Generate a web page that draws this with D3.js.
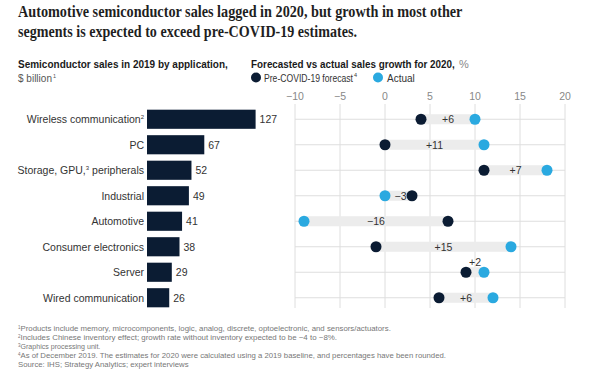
<!DOCTYPE html>
<html><head><meta charset="utf-8">
<script src="https://cdn.jsdelivr.net/npm/d3@7"></script>
<style>
body{margin:0;background:#fff;}
svg{display:block;}
text{font-family:"Liberation Sans",Arial,sans-serif;}
</style></head>
<body>
<script>
const categories = ["Wireless communication","PC","Storage, GPU, peripherals","Industrial","Automotive","Consumer electronics","Server","Wired communication"];
const sales2019 = [127,67,52,49,41,38,29,26];
const forecast = [4,0,11,3,7,-1,9,6];
const actual = [10,11,18,0,-9,14,11,12];
const diffLabels = ["+6","+11","+7","−3","−16","+15","+2","+6"];
const growthTicks = [-10,-5,0,5,10,15,20];
const footnotes = [
 ["1","Products include memory, microcomponents, logic, analog, discrete, optoelectronic, and sensors/actuators."],
 ["2","Includes Chinese inventory effect; growth rate without inventory expected to be −4 to −8%."],
 ["3","Graphics processing unit."],
 ["4","As of December 2019. The estimates for 2020 were calculated using a 2019 baseline, and percentages have been rounded."],
 ["","Source: IHS; Strategy Analytics; expert interviews"]
];

const W=600,H=382;
const navy="#0b1c33", blue="#2aa9e0", grid="#dedede", band="#ececec", txt="#333";
const svg=d3.select("body").append("svg").attr("width",W).attr("height",H);

// place a text at (x,y) scaled horizontally to a target width; returns right edge
function fitText(x,y,str,target,style,allowGrow){
  const t=svg.append("text").attr("x",0).attr("y",0).text(str);
  Object.entries(style).forEach(([k,v])=>{ if(k==="fill") t.attr("fill",v); else t.style(k,v); });
  const w=t.node().getComputedTextLength();
  const s=allowGrow? target/w : Math.min(1,target/w);
  t.attr("transform",`translate(${x},${y}) scale(${s},1)`);
  return x+w*s;
}

// Title
const tf="'Liberation Serif','DejaVu Serif',serif";
const tStyle={"font-family":tf,"font-size":"17px","font-weight":"bold",fill:"#1f1f1f"};
fitText(18,17,"Automotive semiconductor sales lagged in 2020, but growth in most other",445,tStyle);
fitText(18,37,"segments is expected to exceed pre-COVID-19 estimates.",339,tStyle);

// Subtitles
const sStyle={"font-size":"11.5px","font-weight":"bold",fill:"#1a1a1a"};
fitText(18,68,"Semiconductor sales in 2019 by application,",210,sStyle);
const e1=fitText(18,82,"$ billion",34,{"font-size":"10.5px",fill:"#555"});
svg.append("text").attr("x",e1+1).attr("y",77.5).style("font-size","5.5px").attr("fill","#555").text("1");

const e2=fitText(251,68,"Forecasted vs actual sales growth for 2020,",204,sStyle);
svg.append("text").attr("x",e2+4).attr("y",68).style("font-size","11px").attr("fill","#888").text("%");

// Legend
svg.append("circle").attr("cx",256).attr("cy",77.5).attr("r",5).attr("fill",navy);
const e3=fitText(264,81.5,"Pre-COVID-19 forecast",89,{"font-size":"10px",fill:txt});
svg.append("text").attr("x",e3+1).attr("y",77).style("font-size","5.5px").attr("fill",txt).text("4");
svg.append("circle").attr("cx",378).attr("cy",77.5).attr("r",5).attr("fill",blue);
svg.append("text").attr("x",387).attr("y",81.5).style("font-size","10px").attr("fill",txt).text("Actual");

// Scales
const y=d3.scaleBand().domain(categories).range([106.5,310.5]).paddingInner(0.25).paddingOuter(0.125);
const cy=c=>y(c)+y.bandwidth()/2;
const xb=d3.scaleLinear().domain([0,127]).range([147,255.6]);
const xg=d3.scaleLinear().domain([-10,20]).range([295,565]);

// Bars
svg.selectAll("rect.bar").data(categories).join("rect").attr("class","bar")
  .attr("x",xb(0)).attr("y",c=>y(c)).attr("height",y.bandwidth())
  .attr("width",(c,i)=>xb(sales2019[i])-xb(0)).attr("fill",navy);
svg.selectAll("text.val").data(categories).join("text").attr("class","val")
  .attr("x",(c,i)=>xb(sales2019[i])+4).attr("y",c=>cy(c)+4)
  .style("font-size","10.5px").attr("fill",txt).text((c,i)=>sales2019[i]);
const sup={"Wireless communication":["Wireless communication","2",""],"Storage, GPU, peripherals":["Storage, GPU,","3"," peripherals"]};
categories.forEach(c=>{
  const t=svg.append("text").attr("x",144).attr("y",cy(c)+4).attr("text-anchor","end").style("font-size","10.5px").attr("fill",txt);
  if(sup[c]){
    const [a,s,b]=sup[c];
    t.append("tspan").text(a);
    t.append("tspan").attr("dy",-4).style("font-size","6px").text(s);
    if(b) t.append("tspan").attr("dy",4).text(b);
  } else t.text(c);
});

// Growth axis gridlines
svg.selectAll("line.vg").data(growthTicks).join("line").attr("class","vg")
  .attr("x1",d=>xg(d)).attr("x2",d=>xg(d)).attr("y1",104).attr("y2",308).attr("stroke",grid).attr("stroke-width",1);
svg.selectAll("text.tick").data(growthTicks).join("text").attr("class","tick")
  .attr("x",d=>xg(d)).attr("y",100).attr("text-anchor","middle").style("font-size","10.5px").attr("fill","#888")
  .text(d=>d<0?"−"+Math.abs(d):d);
svg.selectAll("line.hg").data(categories).join("line").attr("class","hg")
  .attr("x1",xg(-10)).attr("x2",xg(20)).attr("y1",cy).attr("y2",cy).attr("stroke",grid);

// Connector bands
svg.selectAll("rect.band").data(categories).join("rect").attr("class","band")
  .attr("x",(c,i)=>xg(Math.min(forecast[i],actual[i]))).attr("width",(c,i)=>Math.abs(xg(actual[i])-xg(forecast[i])))
  .attr("y",c=>cy(c)-5).attr("height",10).attr("fill",band);
svg.selectAll("text.diff").data(categories).join("text").attr("class","diff")
  .attr("x",(c,i)=>{const m=(xg(forecast[i])+xg(actual[i]))/2; return i===3? m+2 : m;})
  .attr("y",(c,i)=>i===6? cy(c)-6 : cy(c)+4)
  .attr("text-anchor","middle").style("font-size","10.5px").attr("fill",txt).text((c,i)=>diffLabels[i]);
svg.selectAll("circle.fc").data(categories).join("circle").attr("class","fc")
  .attr("cx",(c,i)=>xg(forecast[i])).attr("cy",cy).attr("r",5.5).attr("fill",navy);
svg.selectAll("circle.ac").data(categories).join("circle").attr("class","ac")
  .attr("cx",(c,i)=>xg(actual[i])).attr("cy",cy).attr("r",5.5).attr("fill",blue);

// Footnotes
const fnW=[371,317,80,426,171];
footnotes.forEach((f,i)=>{
  const yy=331+i*9;
  if(f[0]) svg.append("text").attr("x",18).attr("y",yy-2.5).style("font-size","4.5px").attr("fill","#777").text(f[0]);
  fitText(f[0]?20.5:18,yy,f[1],fnW[i],{"font-size":"7.5px",fill:"#777"},true);
});
</script>
</body></html>
